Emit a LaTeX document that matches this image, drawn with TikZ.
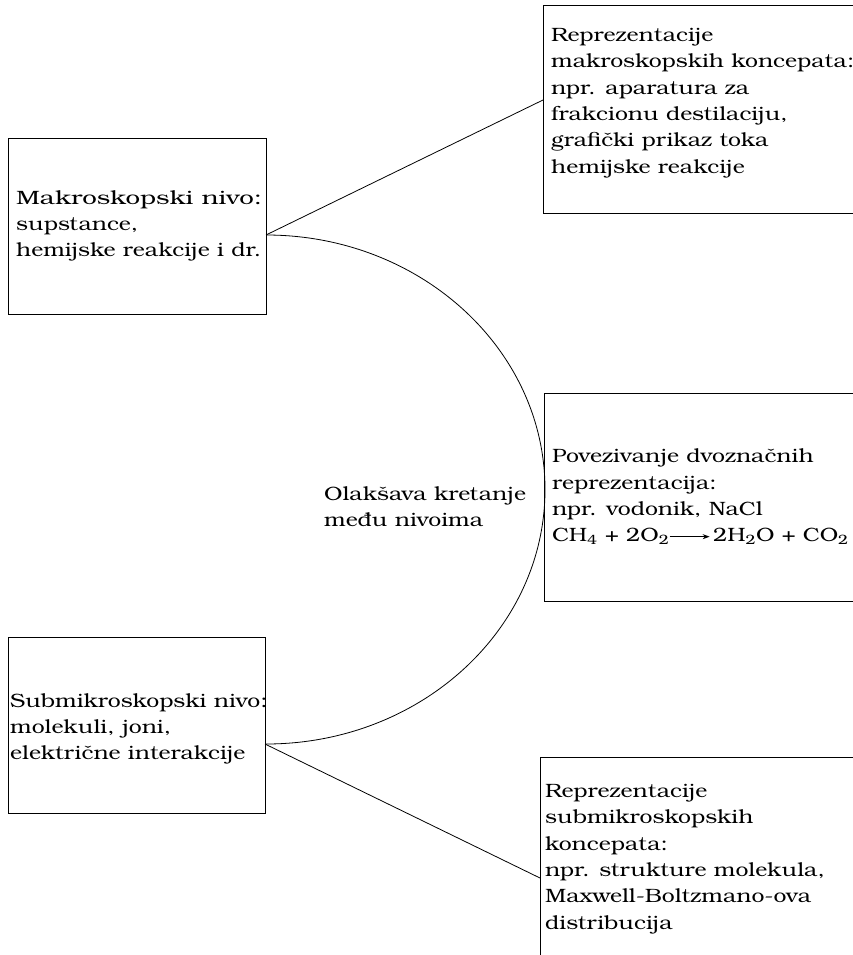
\documentclass[tikz,border=0pt]{standalone}
\usepackage{fontspec}
\usepackage{graphicx}
\setmainfont{TeX Gyre Bonum}[FakeStretch=1.19]
\usetikzlibrary{arrows.meta}
\newcommand{\rxnarrow}{\tikz[baseline=-0.55ex]{\draw[line width=0.8pt,-{Stealth[length=7pt,width=5pt]}] (0pt,0pt) -- (40pt,0pt);}}
\begin{document}
\begin{tikzpicture}[x=1pt,y=-1pt,
  box/.style={draw, line width=1pt, inner sep=0pt, anchor=north west},
  txt/.style={anchor=west, align=left, inner sep=0pt, font=\fontsize{19.3}{26.3}\selectfont},
  link/.style={line width=0.8pt}]
\useasboundingbox (0,0) rectangle (853,955);
\clip (0,0) rectangle (853,955);

% level boxes on the left
\node[box, minimum width=258pt, minimum height=176pt] (macro) at (8,138) {};
\node[box, minimum width=257pt, minimum height=176pt] (submicro) at (8,637) {};

% representation boxes on the right (running past the frame)
\node[box, minimum width=330pt, minimum height=208pt] (reprmacro) at (543,5) {};
\node[box, minimum width=330pt, minimum height=208pt] (dual) at (544,393) {};
\node[box, minimum width=330pt, minimum height=240pt] (reprsub) at (540,757) {};

% texts
\node[txt] (macroT) at (16,226) {\resizebox{246pt}{\height}{Makroskopski nivo:}\\supstance,\\hemijske reakcije i dr.};
\node[txt] (submicroT) at (10,729) {Submikroskopski nivo:\\molekuli, joni,\\električne interakcije};
\node[txt] (reprmacroT) at (551,103) {Reprezentacije\\makroskopskih koncepata:\\npr. aparatura za\\frakcionu destilaciju,\\grafički prikaz toka\\hemijske reakcije};
\node[txt] (dualT) at (552,497) {Povezivanje dvoznačnih\\reprezentacija:\\npr. vodonik, NaCl\\CH\textsubscript{4} + 2O\textsubscript{2}\hspace{0pt}\rxnarrow\hspace{3pt}2H\textsubscript{2}O + CO\textsubscript{2}};
\node[txt] (reprsubT) at (545,859) {Reprezentacije\\submikroskopskih\\koncepata:\\npr. strukture molekula,\\Maxwell-Boltzmano-ova\\distribucija};
\node[txt] (moveT) at (324,507) {Olakšava kretanje\\među nivoima};

% connection points
\coordinate (mOut) at (266,235);
\coordinate (sOut) at (265,744);
\coordinate (rmIn) at (543,100);
\coordinate (rsIn) at (540,878);

% connectors
\draw[link] (mOut) -- (rmIn);
\draw[link] (sOut) -- (rsIn);
\draw[link] (mOut) arc[start angle=-90, end angle=90, x radius=279, y radius=254.5];
\end{tikzpicture}
\end{document}
